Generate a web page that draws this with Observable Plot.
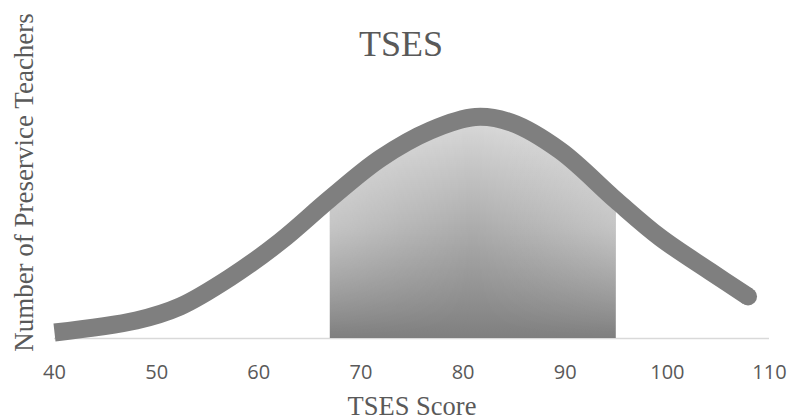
<!DOCTYPE html>
<html>
<head>
<meta charset="utf-8">
<script src="https://cdn.jsdelivr.net/npm/d3@7"></script>
<script src="https://cdn.jsdelivr.net/npm/@observablehq/plot@0.6"></script>
<style>
  html, body { margin: 0; padding: 0; background: #fff; }
</style>
</head>
<body>
<div id="chart"></div>
<script>
// TSES score distribution of preservice teachers
const scores   = [40, 48, 52.3, 57.2, 62.1, 67, 71.9, 76.8, 81.2, 84.7, 89.5, 95, 99.3, 104.2, 107.9];
const teachers = [0.6, 1.8, 3.2, 6.1, 9.7, 14.0, 18.0, 20.8, 22.15, 21.6, 18.8, 13.8, 10.1, 6.7, 4.2];
const xTicks   = [40, 50, 60, 70, 80, 90, 100, 110];

// shaded band: one standard deviation either side of the mean
const shadeFrom = 67;
const shadeTo   = 95;

const title  = "TSES";
const xTitle = "TSES Score";
const yTitle = "Number of Preservice Teachers";

const curve = scores.map((s, i) => ({score: s, count: teachers[i]}));
const band  = curve.filter(d => d.score >= shadeFrom && d.score <= shadeTo);
const last  = curve[curve.length - 1];

const serif = "'Liberation Serif', 'Times New Roman', serif";
const ink = "#595959";
const lineGray = "#7f7f7f";

const svg = Plot.plot({
  width: 788,
  height: 419,
  marginLeft: 54,
  marginRight: 19,
  marginTop: 88,
  marginBottom: 81,
  style: {background: "#fff", color: ink, fontFamily: "'Open Sans', sans-serif", overflow: "visible"},
  x: {domain: [40, 110]},
  y: {domain: [0, 25], axis: null},
  marks: [
    Plot.ruleY([0], {stroke: "#d9d9d9", strokeWidth: 1.5}),
    Plot.areaY(band, {x: "score", y: "count", curve: "catmull-rom", fill: "url(#shade)"}),
    Plot.areaY(band, {x: "score", y: "count", curve: "catmull-rom", fill: "url(#sheen)"}),
    Plot.line(curve, {x: "score", y: "count", curve: "catmull-rom", stroke: lineGray,
                      strokeWidth: 18, strokeLinejoin: "round", strokeLinecap: "butt"}),
    Plot.dot([last], {x: "score", y: "count", r: 9, fill: lineGray}),
    Plot.axisX({ticks: xTicks, tickSize: 0, tickPadding: 26, fontSize: 20, label: null}),
    Plot.text([title], {text: d => d, frameAnchor: "top", dx: -11, dy: -33, lineAnchor: "bottom",
                        fontSize: 36, fontFamily: serif, fill: ink}),
    Plot.text([xTitle], {text: d => d, frameAnchor: "bottom", dy: 76, lineAnchor: "bottom",
                         fontSize: 26.5, fontFamily: serif, fill: ink}),
    Plot.text([yTitle], {text: d => d, frameAnchor: "left", textAnchor: "middle", rotate: -90,
                         dx: -22, dy: -31, lineAnchor: "bottom", fontSize: 27, fontFamily: serif, fill: ink})
  ]
});

// gradients for the shaded band
d3.select(svg).insert("defs", ":first-child").html(`
  <linearGradient id="shade" x1="0" y1="0" x2="0" y2="1">
    <stop offset="0" stop-color="#dadada"/>
    <stop offset="1" stop-color="#7f7f7f"/>
  </linearGradient>
  <linearGradient id="sheen" x1="0" y1="0" x2="1" y2="0">
    <stop offset="0" stop-color="#fff" stop-opacity="0.3"/>
    <stop offset="0.25" stop-color="#fff" stop-opacity="0.14"/>
    <stop offset="0.5" stop-color="#fff" stop-opacity="0"/>
    <stop offset="0.75" stop-color="#fff" stop-opacity="0.14"/>
    <stop offset="1" stop-color="#fff" stop-opacity="0.3"/>
  </linearGradient>
  <linearGradient id="fade" x1="0" y1="0" x2="0" y2="1">
    <stop offset="0" stop-color="#fff"/>
    <stop offset="0.5" stop-color="#fff"/>
    <stop offset="1" stop-color="#000"/>
  </linearGradient>
  <mask id="fadeMask" maskContentUnits="objectBoundingBox">
    <rect x="0" y="0" width="1" height="1" fill="url(#fade)"/>
  </mask>
`);
const areas = d3.select(svg).selectAll("g[aria-label='area']").nodes();
if (areas[1]) d3.select(areas[1]).select("path").attr("mask", "url(#fadeMask)");

document.getElementById("chart").appendChild(svg);
</script>
</body>
</html>
